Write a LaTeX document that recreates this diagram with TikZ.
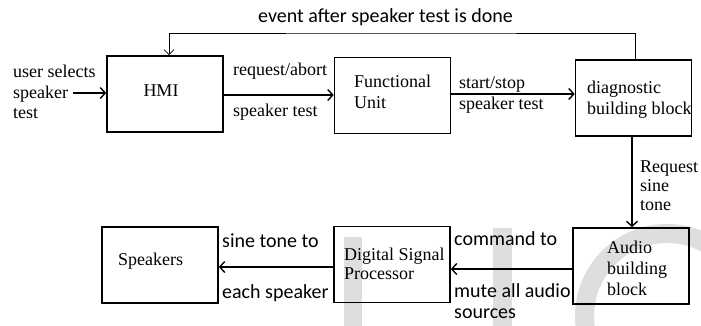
\documentclass[tikz,border=0pt]{standalone}
\usepackage{fontspec}
\setmainfont{Liberation Serif}
\newfontfamily\calfnt{Carlito}
\usetikzlibrary{arrows.meta}
\begin{document}
\begin{tikzpicture}[x=1pt,y=-1pt,
  blk/.style={draw=black,line width=1.6pt,minimum width=116pt,minimum height=76pt,inner sep=0pt},
  sf/.style={font=\fontsize{18}{20}\selectfont,inner sep=0pt,anchor=base west,align=left},
  sn/.style={font=\calfnt\fontsize{20}{20}\selectfont,inner sep=0pt,anchor=base west},
  arr/.style={line width=1.6pt,-{Straight Barb[length=5pt,width=11pt,line width=1.4pt]}},
  thin/.style={line width=0.8pt,-{Straight Barb[length=5pt,width=10pt,line width=0.7pt]}},
  wm/.style={fill=black!13,draw=none}]
\useasboundingbox (0,0) rectangle (701,326);
\fill[white] (0,0) rectangle (701,326);
% watermark
\fill[wm] (344,237) rectangle (362,326);
\fill[wm] (493,228) rectangle (512,326);
\begin{scope}
\clip (560,200) rectangle (701,326);
\fill[wm,even odd rule] (667,316) circle (92) (667,316) circle (73);
\end{scope}
% boxes
\node[blk] (hmi) at (165,94) {};
\node[blk] (fu) at (392.5,95.5) {};
\node[blk] (diag) at (633.5,98) {};
\node[blk] (audio) at (631,266) {};
\node[blk] (dsp) at (392,264.5) {};
\node[blk] (spk) at (160,265) {};
% box texts
\node[sf,anchor=base] (thmi) at (161,97) {HMI};
\node[sf] (tfu1) at (354,88) {Functional};
\node[sf] (tfu2) at (354,109) {Unit};
\node[sf] (tdg1) at (587,94) {diagnostic};
\node[sf] (tdg2) at (587,115) {building block};
\node[sf] (tau1) at (607,253) {Audio};
\node[sf] (tau2) at (607,274) {building};
\node[sf] (tau3) at (607,295) {block};
\node[sf] (tds1) at (344,260) {Digital Signal};
\node[sf] (tds2) at (344,279) {Processor};
\node[sf] (tsp) at (118,265) {Speakers};
% labels
\node[sf] (u1) at (13,78) {user selects};
\node[sf] (u2) at (13,99) {speaker};
\node[sf] (u3) at (13,119) {test};
\node[sf] (l1) at (233,76) {request/abort};
\node[sf] (l2) at (233,117) {speaker test};
\node[sf] (l3) at (459,89) {start/stop};
\node[sf] (l4) at (459,110) {speaker test};
\node[sf] (l5) at (640,172) {Request};
\node[sf] (l6) at (640,191) {sine};
\node[sf] (l7) at (640,210) {tone};
\node[sn] (ev) at (258,23) {event after speaker test is done};
\node[sn] (c1) at (454,245) {command to};
\node[sn] (c2) at (454,297) {mute all audio};
\node[sn] (c3) at (454,318) {sources};
\node[sn] (s1) at (222,247) {sine tone to};
\node[sn] (s2) at (222,298) {each speaker};
% connectors
\coordinate (in) at (73,93);
\coordinate (fb) at (400,33);
\draw[arr] (in) -- (in -| hmi.west);
\draw[arr] ([yshift=-1pt]hmi.east) -- ([yshift=-1pt]hmi.east -| fu.west);
\draw[arr] ([yshift=1.5pt]fu.east) -- ([yshift=1.5pt]fu.east -| diag.west);
\draw[arr] ([xshift=-1.5pt]diag.south) -- ([xshift=-1.5pt]diag.south |- audio.north);
\draw[arr] ([yshift=-3pt]audio.west) -- ([yshift=-3pt]audio.west -| dsp.east);
\draw[arr] ([yshift=-2.5pt]dsp.west) -- ([yshift=-2.5pt]dsp.west -| spk.east);
\draw[thin] ([xshift=1.5pt]diag.north) |- (fb) -| ([xshift=4pt]hmi.north);
\end{tikzpicture}
\end{document}
